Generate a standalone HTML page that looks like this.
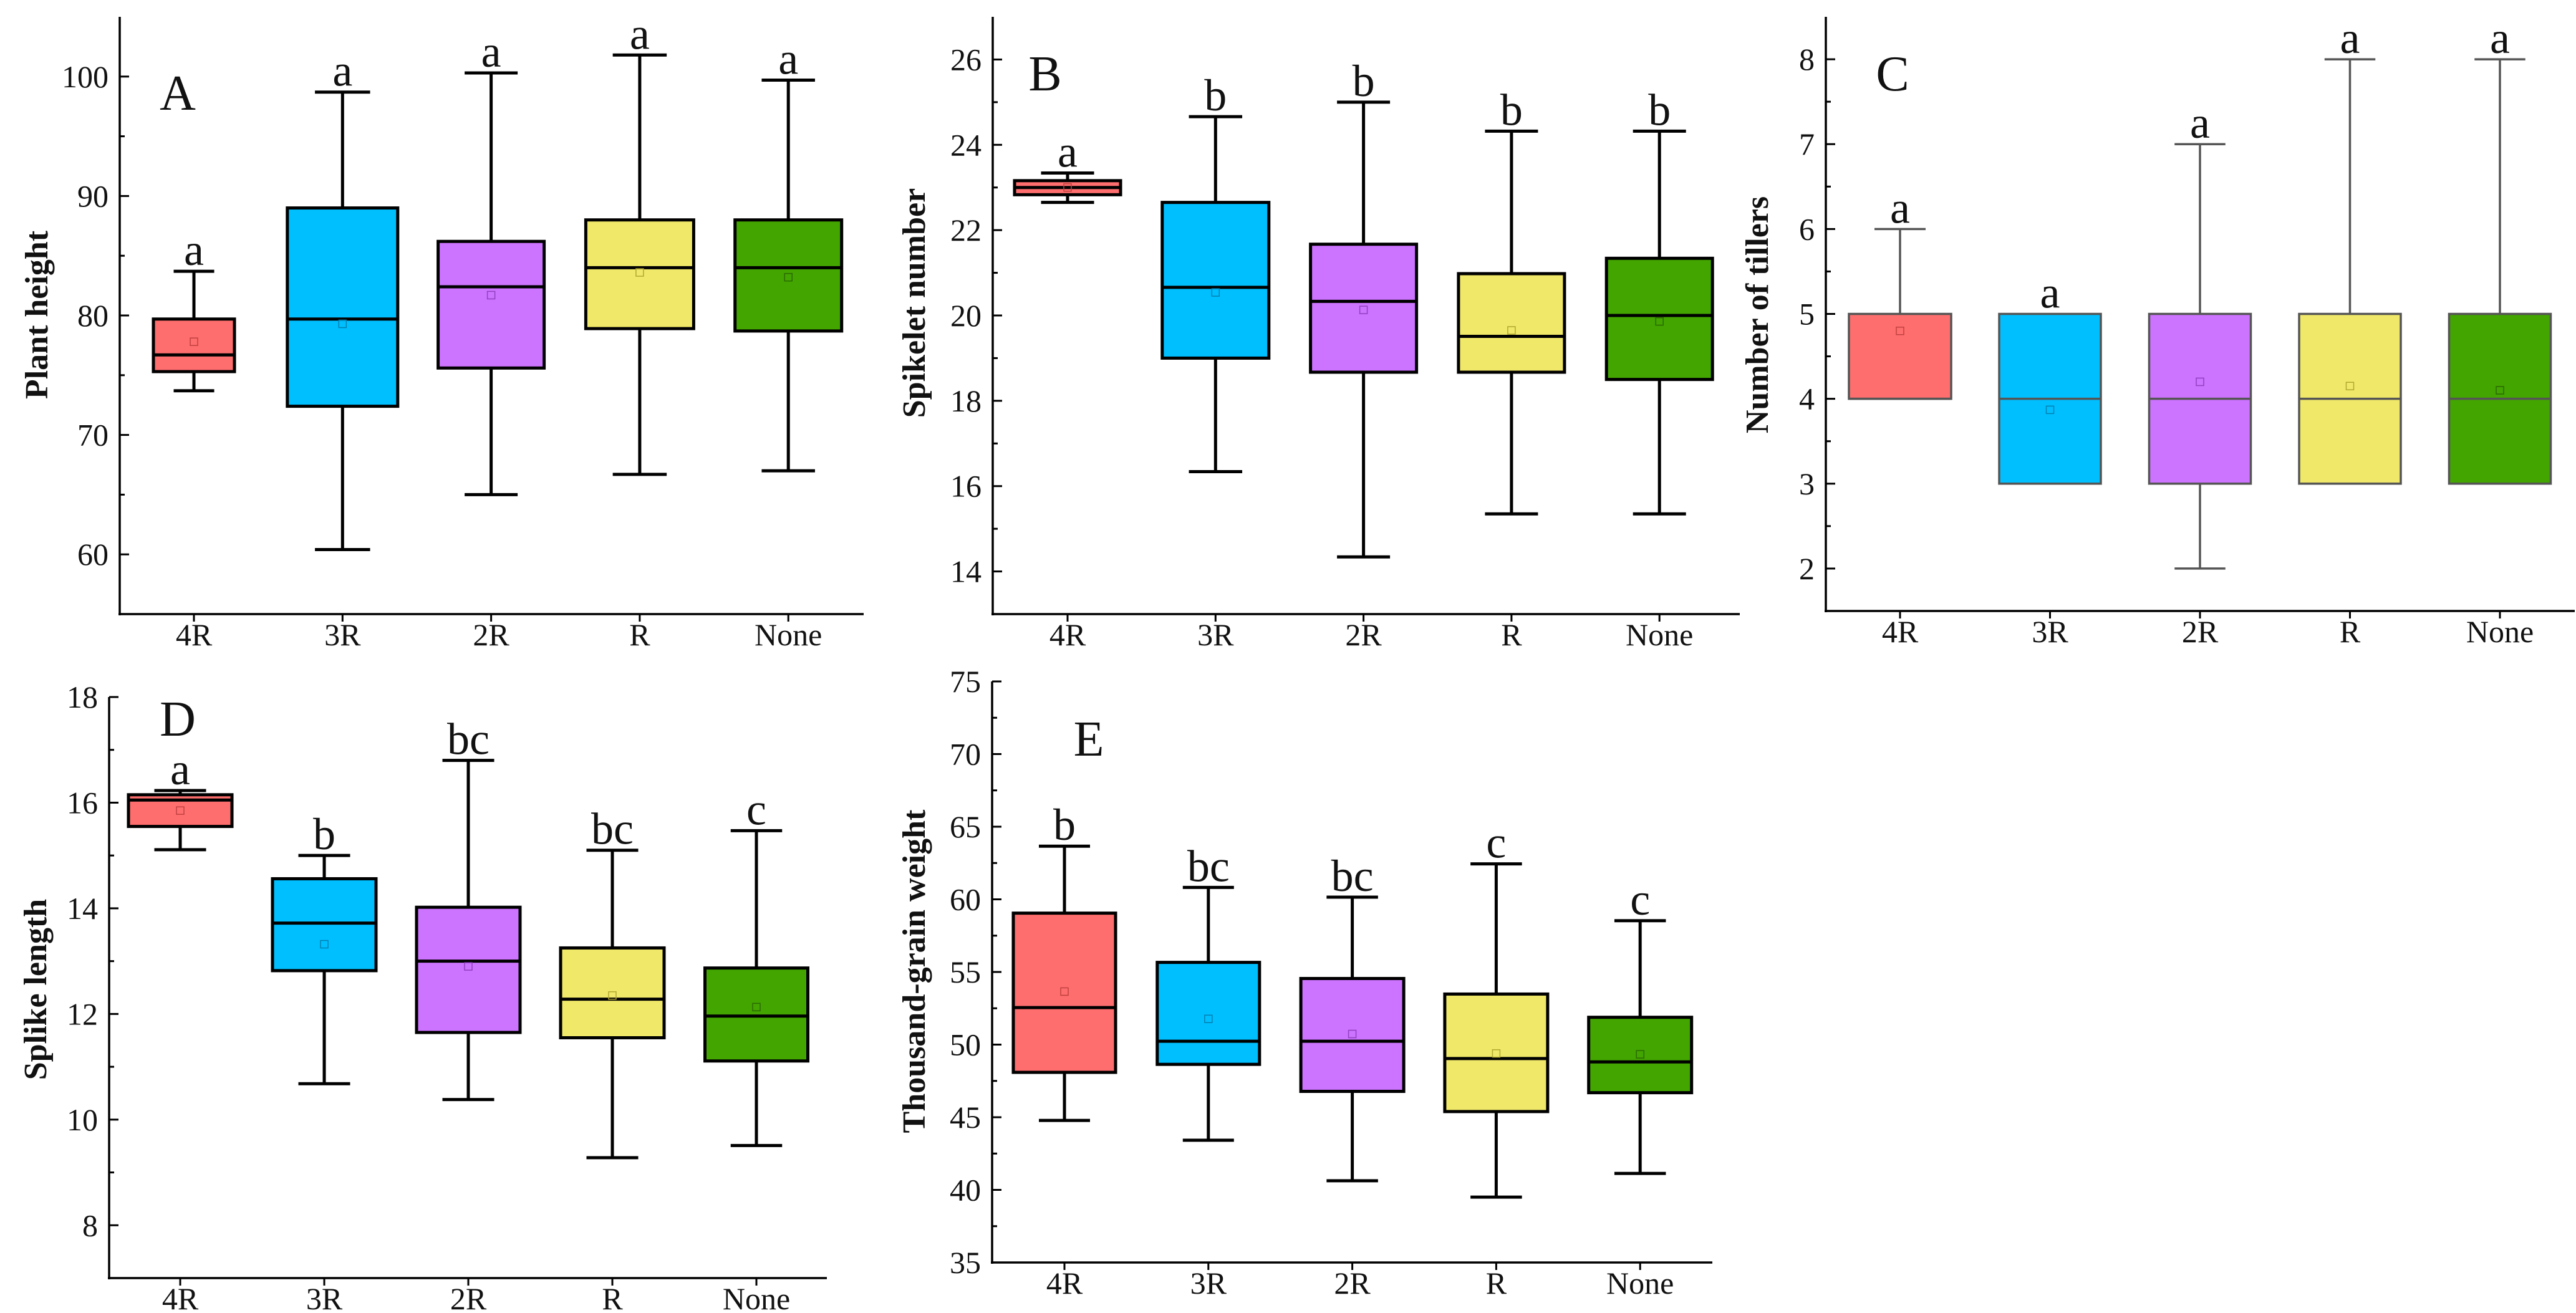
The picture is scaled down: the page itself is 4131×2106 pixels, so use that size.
<!DOCTYPE html>
<html><head><meta charset="utf-8">
<style>
html,body{margin:0;padding:0;background:#fff;}
svg{display:block;}
text{font-family:"Liberation Serif",serif;fill:#111;}
</style></head>
<body>
<svg id="fig" width="4131" height="2106" viewBox="0 0 4131 2106" xmlns="http://www.w3.org/2000/svg"></svg>
<script>
const categories = ["4R","3R","2R","R","None"];
const fills = ["#FF6E6E","#00BFFF","#CC73FF","#F0E869","#43A500"];
const meanStroke = ["#c04040","#0080b0","#9040c0","#b0a830","#2a6a00"];

// Panel A: Plant height
const aMin    = [73.7, 60.4, 65.0, 66.7, 67.0];
const aQ1     = [75.3, 72.4, 75.6, 78.9, 78.7];
const aMed    = [76.7, 79.7, 82.4, 84.0, 84.0];
const aQ3     = [79.7, 89.0, 86.2, 88.0, 88.0];
const aMax    = [83.7, 98.7, 100.3, 101.8, 99.7];
const aMean   = [77.8, 79.3, 81.7, 83.6, 83.2];
const aLetters= ["a","a","a","a","a"];
const aTicks  = [60,70,80,90,100];

// Panel B: Spikelet number
const bMin    = [22.65, 16.34, 14.34, 15.35, 15.35];
const bQ1     = [22.83, 19.0, 18.67, 18.67, 18.5];
const bMed    = [23.0, 20.66, 20.33, 19.51, 20.0];
const bQ3     = [23.16, 22.65, 21.67, 20.98, 21.34];
const bMax    = [23.34, 24.66, 25.0, 24.32, 24.32];
const bMean   = [23.0, 20.54, 20.13, 19.65, 19.86];
const bLetters= ["a","b","b","b","b"];
const bTicks  = [14,16,18,20,22,24,26];

// Panel C: Number of tillers
const cMin    = [4, 3, 2, 3, 3];
const cQ1     = [4, 3, 3, 3, 3];
const cMed    = [4, 4, 4, 4, 4];
const cQ3     = [5, 5, 5, 5, 5];
const cMax    = [6, 5, 7, 8, 8];
const cMean   = [4.8, 3.87, 4.2, 4.15, 4.1];
const cLetters= ["a","a","a","a","a"];
const cTicks  = [2,3,4,5,6,7,8];

// Panel D: Splike length
const dMin    = [15.11, 10.68, 10.38, 9.28, 9.51];
const dQ1     = [15.55, 12.82, 11.65, 11.55, 11.11];
const dMed    = [16.05, 13.72, 13.0, 12.28, 11.96];
const dQ3     = [16.15, 14.56, 14.02, 13.25, 12.87];
const dMax    = [16.23, 15.0, 16.8, 15.1, 15.47];
const dMean   = [15.85, 13.32, 12.9, 12.35, 12.13];
const dLetters= ["a","b","bc","bc","c"];
const dTicks  = [8,10,12,14,16,18];

// Panel E: Thousand-grain weight
const eMin    = [44.78, 43.42, 40.63, 39.5, 41.13];
const eQ1     = [48.09, 48.64, 46.78, 45.39, 46.69];
const eMed    = [52.55, 50.23, 50.23, 49.04, 48.81];
const eQ3     = [59.05, 55.66, 54.55, 53.48, 51.88];
const eMax    = [63.66, 60.82, 60.15, 62.44, 58.53];
const eMean   = [53.65, 51.77, 50.73, 49.39, 49.33];
const eLetters= ["b","bc","bc","c","c"];
const eTicks  = [35,40,45,50,55,60,65,70,75];

const NS = "http://www.w3.org/2000/svg";
const svg = document.getElementById("fig");
function mk(tag, attrs, parent){
  const e = document.createElementNS(NS, tag);
  for (const k in attrs) e.setAttribute(k, attrs[k]);
  (parent||svg).appendChild(e);
  return e;
}

function panel(cfg){
  const g = mk("g", {});
  
  
  const yScale = v => cfg.bottom - (v - cfg.vmin) / (cfg.vmax - cfg.vmin) * (cfg.bottom - cfg.top);
  const xScale = i => cfg.x0 + i * cfg.dx;
  const col = cfg.gray ? "#555" : "#000";
  const sw = cfg.gray ? 3.5 : 5;

  for (let i = 0; i < categories.length; i++){
    const bg = mk("g", {}, g);
    
    
    const cx = xScale(i), hw = cfg.bw[i] / 2, cw = hw / 2;
    mk("line", {x1:cx, x2:cx, y1:yScale(cfg.max[i]), y2:yScale(cfg.q3[i]), stroke:col, "stroke-width":sw}, bg);
    mk("line", {x1:cx, x2:cx, y1:yScale(cfg.q1[i]), y2:yScale(cfg.min[i]), stroke:col, "stroke-width":sw}, bg);
    if (cfg.max[i] > cfg.q3[i]) mk("line", {x1:cx-cw, x2:cx+cw, y1:yScale(cfg.max[i]), y2:yScale(cfg.max[i]), stroke:col, "stroke-width":sw}, bg);
    if (cfg.min[i] < cfg.q1[i]) mk("line", {x1:cx-cw, x2:cx+cw, y1:yScale(cfg.min[i]), y2:yScale(cfg.min[i]), stroke:col, "stroke-width":sw}, bg);
    mk("rect", {x:cx-hw, y:yScale(cfg.q3[i]), width:2*hw, height:yScale(cfg.q1[i])-yScale(cfg.q3[i]), fill:fills[i], stroke:col, "stroke-width":sw}, bg);
    mk("line", {x1:cx-hw, x2:cx+hw, y1:yScale(cfg.med[i]), y2:yScale(cfg.med[i]), stroke:col, "stroke-width":sw}, bg);
    mk("rect", {x:cx-6, y:yScale(cfg.mean[i])-6, width:12, height:12, fill:"none", stroke:meanStroke[i], "stroke-width":1.5}, bg);
    const lt = mk("text", {x:cx, y:yScale(cfg.max[i]) - 10, "font-size":72, "text-anchor":"middle"}, bg);
    
    
    lt.textContent = cfg.letters[i];
  }

  const ax = mk("line", {x1:cfg.axisX, x2:cfg.axisX, y1:cfg.top, y2:cfg.bottom+2, stroke:"#000", "stroke-width":3.5}, g);
  
  
  const xa = mk("line", {x1:cfg.axisX-2, x2:cfg.right, y1:cfg.bottom, y2:cfg.bottom, stroke:"#000", "stroke-width":3.5}, g);
  
  

  for (let k = 0; k < cfg.ticks.length; k++){
    const v = cfg.ticks[k], y = yScale(v);
    mk("line", {x1:cfg.axisX, x2:cfg.axisX+15, y1:y, y2:y, stroke:"#000", "stroke-width":3}, g);
    const t = mk("text", {x:cfg.axisX-18, y:y+17, "font-size":50, "text-anchor":"end"}, g);
    
    
    t.textContent = v;
    if (k < cfg.ticks.length - 1){
      const ym = yScale((v + cfg.ticks[k+1]) / 2);
      mk("line", {x1:cfg.axisX, x2:cfg.axisX+8, y1:ym, y2:ym, stroke:"#000", "stroke-width":3}, g);
    }
  }
  const step = cfg.ticks[1] - cfg.ticks[0];
  [cfg.ticks[0] - step/2, cfg.ticks[cfg.ticks.length-1] + step/2].forEach(v => {
    if (v > cfg.vmin && v < cfg.vmax){
      const ym = yScale(v);
      mk("line", {x1:cfg.axisX, x2:cfg.axisX+8, y1:ym, y2:ym, stroke:"#000", "stroke-width":3}, g);
    }
  });

  for (let i = 0; i < categories.length; i++){
    const cx = xScale(i);
    mk("line", {x1:cx, x2:cx, y1:cfg.bottom, y2:cfg.bottom+12, stroke:"#000", "stroke-width":3}, g);
    const t = mk("text", {x:cx, y:cfg.bottom+50, "font-size":50, "text-anchor":"middle"}, g);
    
    
    t.textContent = categories[i];
  }

  const tt = mk("text", {x:0, y:0, "font-size":52, "font-weight":"bold", "text-anchor":"middle",
    transform:"translate(" + (cfg.titleX + 18) + "," + cfg.titleY + ") rotate(-90)"}, g);
  
  
  tt.textContent = cfg.title;

  const pl = mk("text", {x:cfg.labelX, y:cfg.labelY, "font-size":80, "text-anchor":"middle"}, g);
  
  
  pl.textContent = cfg.id;
}

panel({id:"A", title:"Plant height", min:aMin, q1:aQ1, med:aMed, q3:aQ3, max:aMax, mean:aMean, letters:aLetters, ticks:aTicks,
  vmin:55, vmax:105, top:27, bottom:985, axisX:192, right:1385, x0:311, dx:238.3, bw:[130,177,170,173,171],
  titleX:58, titleY:505, labelX:285, labelY:176});
panel({id:"B", title:"Spikelet number", min:bMin, q1:bQ1, med:bMed, q3:bQ3, max:bMax, mean:bMean, letters:bLetters, ticks:bTicks,
  vmin:13, vmax:27, top:27, bottom:985, axisX:1592, right:2790, x0:1712, dx:237.3, bw:[170,171,170,170,170],
  titleX:1465, titleY:486, labelX:1676, labelY:145});
panel({id:"C", title:"Number of tillers", min:cMin, q1:cQ1, med:cMed, q3:cQ3, max:cMax, mean:cMean, letters:cLetters, ticks:cTicks,
  vmin:1.5, vmax:8.5, top:27, bottom:980, axisX:2928, right:4129, x0:3047, dx:240.5, bw:[164,163,163,163,163],
  titleX:2817, titleY:505, labelX:3035, labelY:145, gray:true});
panel({id:"D", title:"Splike length", min:dMin, q1:dQ1, med:dMed, q3:dQ3, max:dMax, mean:dMean, letters:dLetters, ticks:dTicks,
  vmin:7, vmax:18, top:1118, bottom:2050, axisX:175, right:1326, x0:289, dx:231, bw:[166,166,166,166,165],
  titleX:56, titleY:1587, labelX:285, labelY:1180});
panel({id:"E", title:"Thousand-grain weight", min:eMin, q1:eQ1, med:eMed, q3:eQ3, max:eMax, mean:eMean, letters:eLetters, ticks:eTicks,
  vmin:35, vmax:75, top:1093, bottom:2025, axisX:1591, right:2746, x0:1707, dx:230.8, bw:[164,164,165,165,165],
  titleX:1465, titleY:1558, labelX:1746, labelY:1212});
</script>
</body></html>
